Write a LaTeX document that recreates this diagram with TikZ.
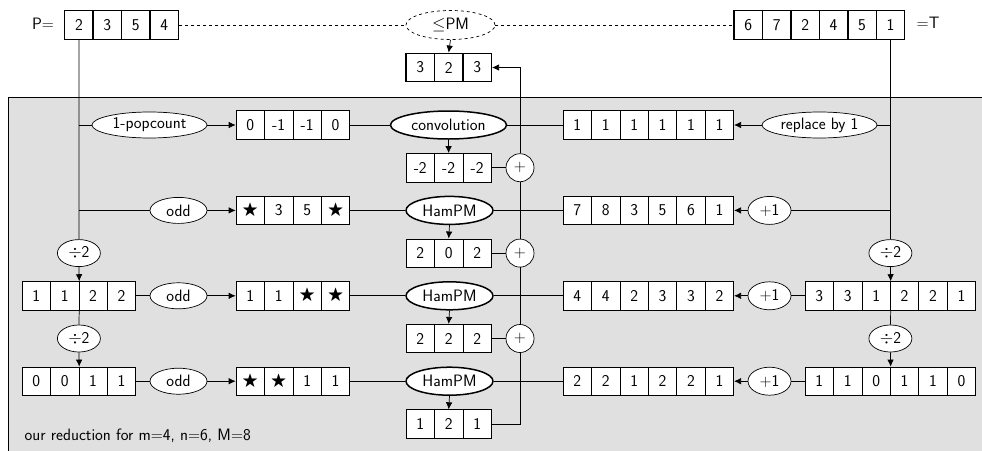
\documentclass[tikz,border=0pt]{standalone}
\usepackage{amssymb}
\usepackage{fontspec}
\usetikzlibrary{shapes.geometric,arrows.meta}
\newcommand{\stz}{$\bigstar$}
\newcommand{\cellrow}[5]{%
  \foreach \v [count=\i] in {#4} {%
    \node[#5] (#1-\i) at ({#2+(\i-0.5)*28.45},#3) {\v};
  }%
}
\begin{document}
\begin{tikzpicture}[x=1pt,y=-1pt,
  font=\fontsize{16.5}{18}\selectfont\sffamily,
  line width=0.7pt,
  cellbox/.style={draw, fill=white, minimum width=28.45pt, minimum height=28.45pt, inner sep=0pt},
  topcell/.style={cellbox, line width=1.4pt},
  ell/.style={draw, ellipse, fill=white, inner sep=0pt},
  bold ell/.style={ell, line width=1.5pt},
  plusc/.style={circle, draw, fill=white, minimum size=28pt, inner sep=0pt},
  arr/.style={-{Latex[length=7pt,width=6.5pt]}},
]
\useasboundingbox (0,0) rectangle (982,450);
\filldraw[fill=black!12, draw=black, line width=0.7pt] (8,97) rectangle (1000,470);

% top row
\node (Plab) at (43,24) {P=};
\cellrow{P}{64.7}{25}{2,3,5,4}{topcell}
\cellrow{T}{734}{25}{6,7,2,4,5,1}{topcell}
\node (Tlab) at (928,23) {=T};
\node[ell, dashed, minimum width=89pt, minimum height=29pt] (pm) at (450.5,25) {$\leq$PM};
\cellrow{O}{406}{67.5}{3,2,3}{topcell}

% row 1
\node[ell, minimum width=115pt, minimum height=26pt] (pop) at (149.5,125) {1-popcount};
\cellrow{A1}{236}{125}{0,-1,-1,0}{cellbox}
\node[bold ell, minimum width=116pt, minimum height=28pt] (conv) at (448.5,125) {convolution};
\cellrow{B1}{563}{125}{1,1,1,1,1,1}{cellbox}
\node[ell, minimum width=115pt, minimum height=26pt] (rep) at (819.5,125) {replace by 1};
\cellrow{S1}{406}{167.7}{-2,-2,-2}{cellbox}
\node[plusc] (plus1) at (520,167.7) {+};

% row 2
\node[ell, minimum width=57pt, minimum height=26pt] (odd2) at (178.5,210.4) {odd};
\cellrow{A2}{236}{210.4}{\stz,3,5,\stz}{cellbox}
\node[bold ell, minimum width=87pt, minimum height=28pt] (H2) at (449.5,210.4) {HamPM};
\cellrow{B2}{563}{210.4}{7,8,3,5,6,1}{cellbox}
\node[ell, minimum width=43pt, minimum height=28pt] (inc2) at (769.5,210.4) {+1};
\cellrow{S2}{406}{253.1}{2,0,2}{cellbox}
\node[plusc] (plus2) at (520,253.1) {+};
\node[ell, minimum width=43pt, minimum height=27pt] (dl2) at (78.9,253.1) {$\div$2};
\node[ell, minimum width=43pt, minimum height=27pt] (dr2) at (890.4,253.1) {$\div$2};

% row 3
\cellrow{L3}{22}{295.8}{1,1,2,2}{cellbox}
\node[ell, minimum width=57pt, minimum height=26pt] (odd3) at (178.5,295.8) {odd};
\cellrow{A3}{236}{295.8}{1,1,\stz,\stz}{cellbox}
\node[bold ell, minimum width=87pt, minimum height=28pt] (H3) at (449.5,295.8) {HamPM};
\cellrow{B3}{563}{295.8}{4,4,2,3,3,2}{cellbox}
\node[ell, minimum width=43pt, minimum height=28pt] (inc3) at (769.5,295.8) {+1};
\cellrow{R3}{805}{295.8}{3,3,1,2,2,1}{cellbox}
\cellrow{S3}{406}{338.5}{2,2,2}{cellbox}
\node[plusc] (plus3) at (520,338.5) {+};
\node[ell, minimum width=43pt, minimum height=27pt] (dl3) at (78.9,338.5) {$\div$2};
\node[ell, minimum width=43pt, minimum height=27pt] (dr3) at (890.4,338.5) {$\div$2};

% row 4
\cellrow{L4}{22}{381.2}{0,0,1,1}{cellbox}
\node[ell, minimum width=57pt, minimum height=26pt] (odd4) at (178.5,381.2) {odd};
\cellrow{A4}{236}{381.2}{\stz,\stz,1,1}{cellbox}
\node[bold ell, minimum width=87pt, minimum height=28pt] (H4) at (449.5,381.2) {HamPM};
\cellrow{B4}{563}{381.2}{2,2,1,2,2,1}{cellbox}
\node[ell, minimum width=43pt, minimum height=28pt] (inc4) at (769.5,381.2) {+1};
\cellrow{R4}{805}{381.2}{1,1,0,1,1,0}{cellbox}
\cellrow{S4}{406}{423.9}{1,2,1}{cellbox}

\node[anchor=west] (cap) at (21,436) {our reduction for m=4, n=6, M=8};

% connectors: top
\draw[dashed] (P-4.east) -- (pm.west);
\draw[dashed] (pm.east) -- (T-1.west);
\draw[arr] (pm.south) -- (O-2.north);
\draw (P-1.south) -- (dl2.north);
\draw (T-6.south) -- (dr2.north);

% row 1
\draw (pop.west -| P-1.south) -- (pop.west);
\draw[arr] (pop.east) -- (A1-1.west);
\draw (A1-4.east) -- (conv.west);
\draw (conv.east) -- (B1-1.west);
\draw[arr] (conv.south) -- (S1-2.north);
\draw[arr] (rep.west) -- (B1-6.east);
\draw (rep.east) -- (rep.east -| T-6.south);
\draw (S1-3.east) -- (plus1.west);
\draw[arr] (plus1.north) |- (O-3.east);

% row 2
\draw (odd2.west -| P-1.south) -- (odd2.west);
\draw[arr] (odd2.east) -- (A2-1.west);
\draw (A2-4.east) -- (H2.west);
\draw (H2.east) -- (B2-1.west);
\draw[arr] (H2.south) -- (S2-2.north);
\draw[arr] (inc2.west) -- (B2-6.east);
\draw (inc2.east) -- (inc2.east -| T-6.south);
\draw (S2-3.east) -- (plus2.west);
\draw (plus2.north) -- (plus1.south);
\draw[arr] (dl2.south) -- (L3-2.north east);
\draw[arr] (dr2.south) -- (R3-3.north east);

% row 3
\draw (L3-4.east) -- (odd3.west);
\draw[arr] (odd3.east) -- (A3-1.west);
\draw (A3-4.east) -- (H3.west);
\draw (H3.east) -- (B3-1.west);
\draw[arr] (H3.south) -- (S3-2.north);
\draw[arr] (inc3.west) -- (B3-6.east);
\draw (R3-1.west) -- (inc3.east);
\draw (S3-3.east) -- (plus3.west);
\draw (plus3.north) -- (plus2.south);
\draw (L3-2.south east) -- (dl3.north);
\draw (R3-3.south east) -- (dr3.north);
\draw[arr] (dl3.south) -- (L4-2.north east);
\draw[arr] (dr3.south) -- (R4-3.north east);

% row 4
\draw (L4-4.east) -- (odd4.west);
\draw[arr] (odd4.east) -- (A4-1.west);
\draw (A4-4.east) -- (H4.west);
\draw (H4.east) -- (B4-1.west);
\draw[arr] (H4.south) -- (S4-2.north);
\draw[arr] (inc4.west) -- (B4-6.east);
\draw (R4-1.west) -- (inc4.east);
\draw (S4-3.east) -| (plus3.south);
\end{tikzpicture}
\end{document}
